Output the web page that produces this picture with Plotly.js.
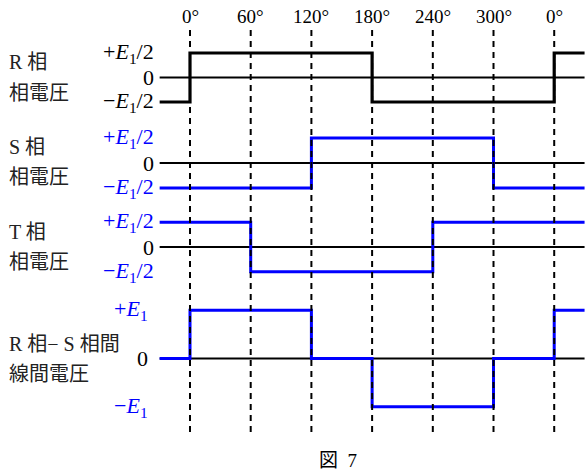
<!DOCTYPE html>
<html><head><meta charset="utf-8">
<script src="https://cdn.plot.ly/plotly-3.0.1.min.js"></script>
<style>body{margin:0;background:#fff}</style>
</head><body><div id="c" style="width:588px;height:473px"></div>
<script>
// angles (degrees) of the vertical reference lines and their labels
const gridAngles = [0, 60, 120, 180, 240, 300, 360];
const gridLabels = ['0°', '60°', '120°', '180°', '240°', '300°', '0°'];
// step waveforms (value holds until next angle, 'hv')
const rAngles = [-30, 0, 180, 360, 390];
const rValues = [-0.5, 0.5, -0.5, 0.5, 0.5];
const sAngles = [-30, 120, 300, 390];
const sValues = [-0.5, 0.5, -0.5, -0.5];
const tAngles = [-30, 60, 240, 390];
const tValues = [0.5, -0.5, 0.5, 0.5];
const rsAngles = [-30, 0, 120, 180, 300, 360, 390];
const rsValues = [0, 1, 0, -1, 0, 1, 1];
// tick labels
const halfTicks = [0.5, 0, -0.5];
const halfTickText = ['+<i>E</i><sub>1</sub>/2', '0', '−<i>E</i><sub>1</sub>/2'];
const fullTicks = [1, 0, -1];
const fullTickText = ['+<i>E</i><sub>1</sub>', '0', '−<i>E</i><sub>1</sub>'];
const rowTitles = [['R 相', '相電圧'], ['S 相', '相電圧'], ['T 相', '相電圧'], ['R 相− S 相間', '線間電圧']];
const figCaption = '図  7';

const W = 588, H = 473;
const BLUE = '#0000ff';
const serif = 'Liberation Serif, Times New Roman, serif';
const mixed = 'Liberation Serif, Noto Sans CJK JP, sans-serif';
const py = p => 1 - p / H;

// each row: zero pixel, pixels per unit
const rows = [
  {axis: 'y', zero: 77.5, scale: 49, wave: [rAngles, rValues], color: '#000', width: 3.2, ticks: halfTicks, text: halfTickText, tickColor: ['#000', '#000', '#000'], labX: 156},
  {axis: 'y2', zero: 163, scale: 50, wave: [sAngles, sValues], color: BLUE, width: 3, ticks: halfTicks, text: halfTickText, tickColor: [BLUE, '#000', BLUE], labX: 156},
  {axis: 'y3', zero: 247, scale: 49.5, wave: [tAngles, tValues], color: BLUE, width: 3, ticks: halfTicks, text: halfTickText, tickColor: [BLUE, '#000', BLUE], labX: 156},
  {axis: 'y4', zero: 358.5, scale: 48.3, wave: [rsAngles, rsValues], color: BLUE, width: 3, ticks: fullTicks, text: fullTickText, tickColor: [BLUE, '#000', BLUE], labX: 150}
];
const titleY = [[62, 93], [147, 177], [232, 262], [344, 374]];

const traces = [];
const layout = {
  width: W, height: H, margin: {l: 0, r: 0, t: 0, b: 0},
  paper_bgcolor: '#fff', plot_bgcolor: '#fff', showlegend: false,
  xaxis: {range: [-190 / 1.0117, (588 - 190) / 1.0117], visible: false, fixedrange: true},
  annotations: []
};
rows.forEach((r, i) => {
  const key = i === 0 ? 'yaxis' : 'yaxis' + (i + 1);
  layout[key] = {range: [(r.zero - H) / r.scale, r.zero / r.scale], visible: false, fixedrange: true};
  if (i > 0) layout[key].overlaying = 'y';
  // zero line
  traces.push({x: [-30, 390], y: [0, 0], yaxis: r.axis, mode: 'lines', line: {color: '#000', width: 2}, hoverinfo: 'skip'});
  r.ticks.forEach((t, k) => {
    layout.annotations.push({xref: 'paper', yref: r.axis, x: r.labX / W, y: t,
      xanchor: 'right', yanchor: 'middle', showarrow: false, text: r.text[k],
      font: {family: serif, size: 22, color: r.tickColor[k]}});
  });
  rowTitles[i].forEach((t, k) => {
    layout.annotations.push({xref: 'paper', yref: 'paper', x: 7 / W, y: py(titleY[i][k]),
      xanchor: 'left', yanchor: 'middle', showarrow: false, text: t,
      font: {family: mixed, size: 20, color: '#222'}});
  });
});
// dashed vertical lines
const dx = [], dy = [];
gridAngles.forEach(a => { dx.push(a, a, null); dy.push(py(30), py(432), null); });
layout.yaxis5 = {range: [0, 1], overlaying: 'y', visible: false, fixedrange: true};
traces.push({x: dx, y: dy, yaxis: 'y5', mode: 'lines', line: {color: '#000', width: 2, dash: '6px,5px'}, hoverinfo: 'skip'});
// waveforms
rows.forEach(r => {
  traces.push({x: r.wave[0], y: r.wave[1], yaxis: r.axis, mode: 'lines', line: {color: r.color, width: r.width, shape: 'hv'}, hoverinfo: 'skip'});
});
gridAngles.forEach((a, i) => {
  layout.annotations.push({xref: 'x', yref: 'paper', x: a, y: py(17), xanchor: 'center', yanchor: 'middle',
    showarrow: false, text: gridLabels[i], font: {family: serif, size: 19, color: '#000'}});
});
layout.annotations.push({xref: 'paper', yref: 'paper', x: 338 / W, y: py(460), xanchor: 'center', yanchor: 'middle',
  showarrow: false, text: figCaption, font: {family: mixed, size: 19, color: '#000'}});

Plotly.newPlot('c', traces, layout, {displayModeBar: false});
</script></body></html>
